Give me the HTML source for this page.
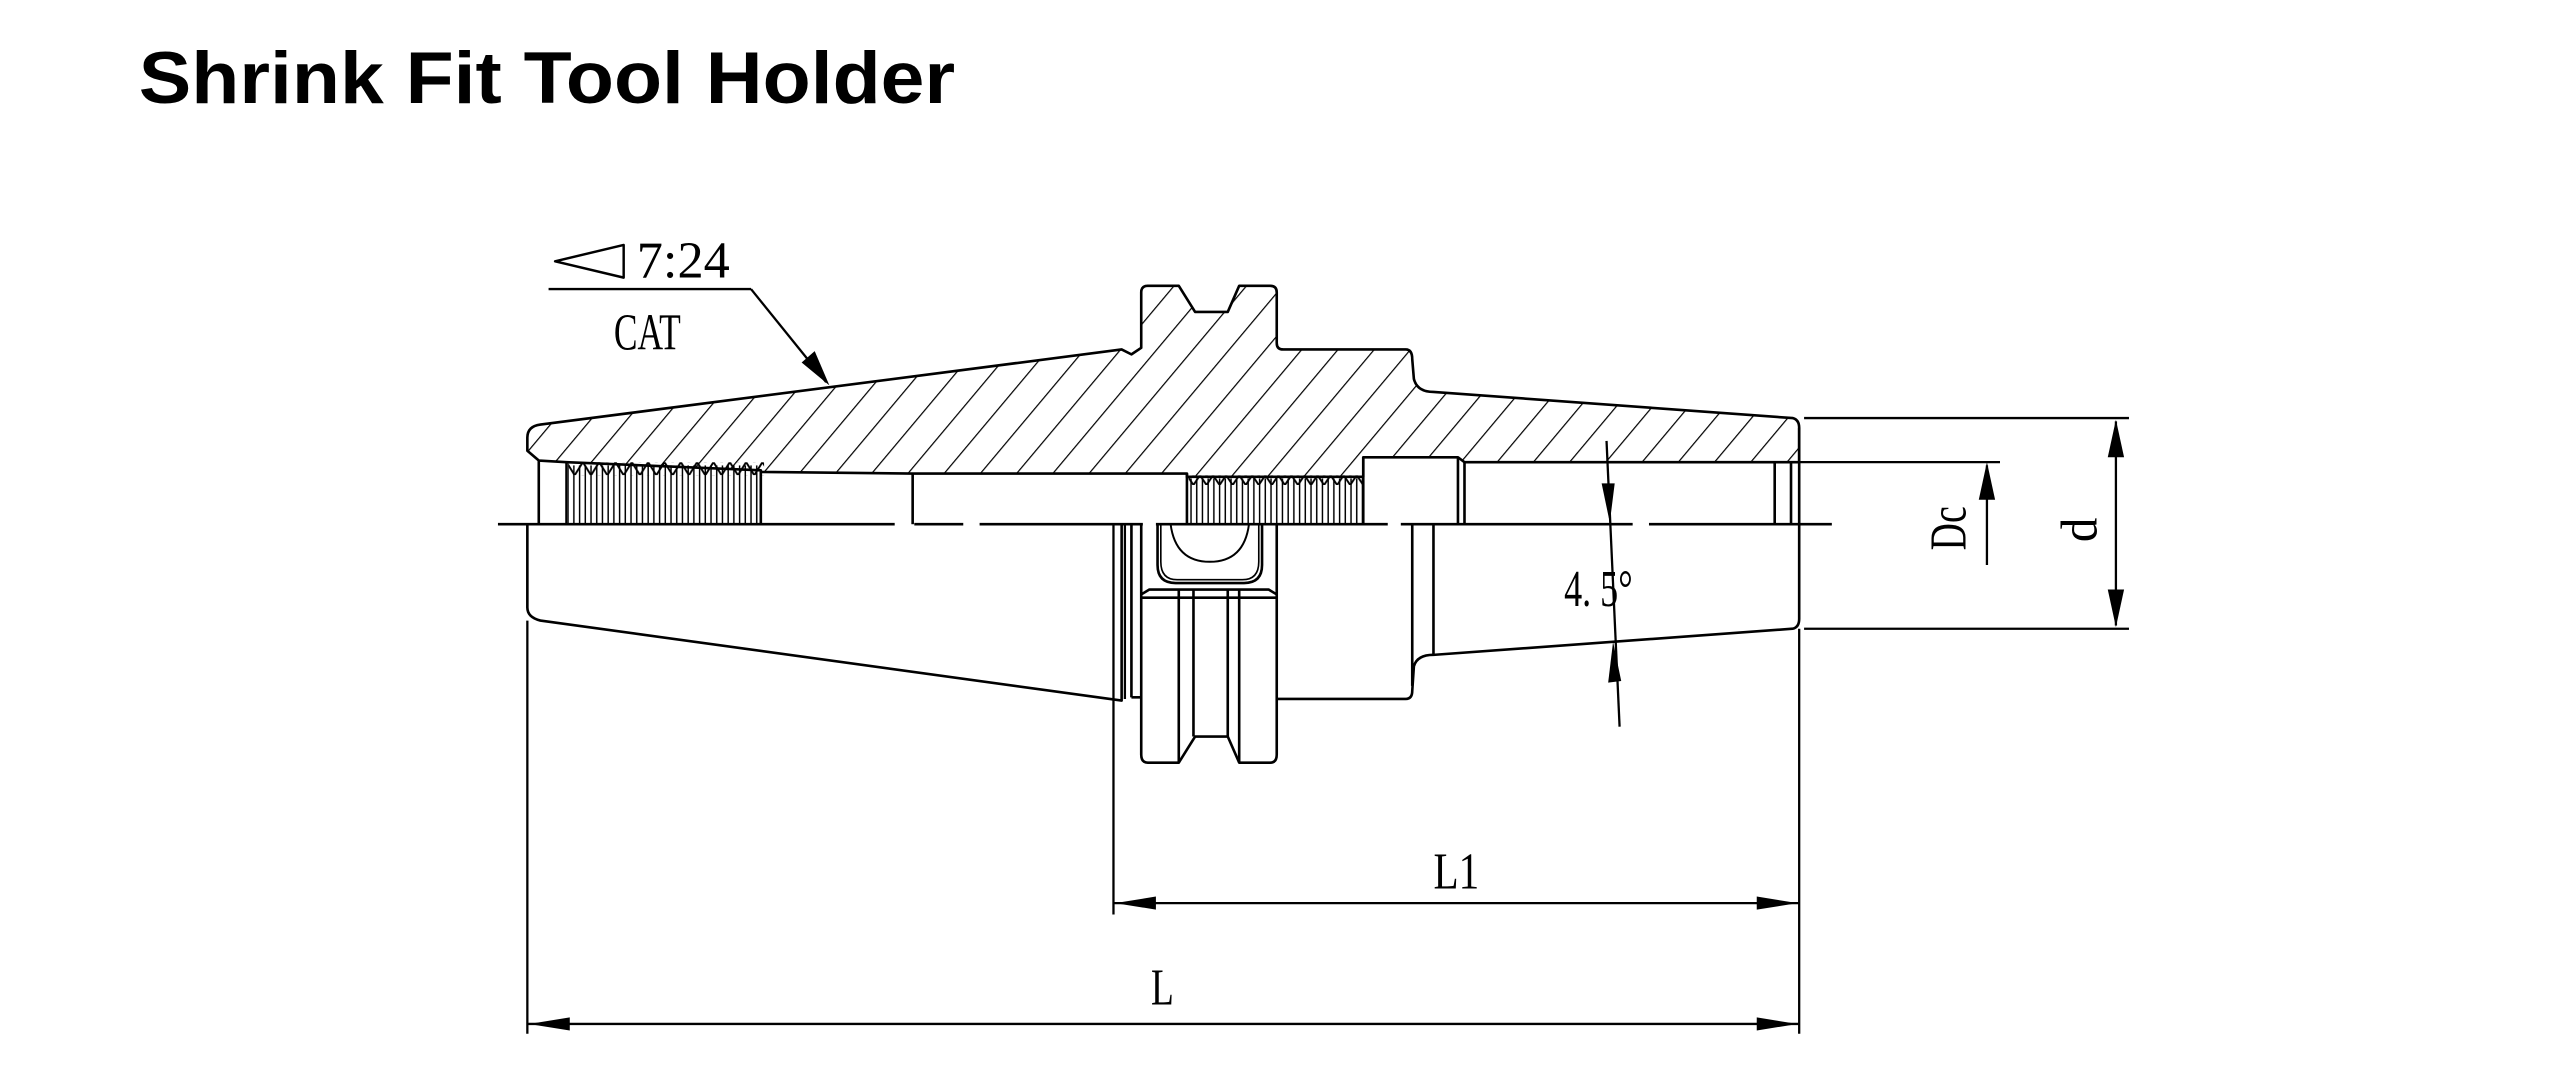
<!DOCTYPE html>
<html><head><meta charset="utf-8"><style>
html,body{margin:0;padding:0;background:#fff;}
svg{display:block;}
</style></head><body>
<svg width="2560" height="1086" viewBox="0 0 1568 665" preserveAspectRatio="none" xmlns="http://www.w3.org/2000/svg">
<defs>
<pattern id="hatch" width="17" height="20" patternUnits="userSpaceOnUse" patternTransform="rotate(40)">
<line x1="0" y1="0" x2="0" y2="20" stroke="#000" stroke-width="1.5"/>
</pattern>
<pattern id="vl" width="3.5" height="40" patternUnits="userSpaceOnUse" x="347">
<line x1="1" y1="0" x2="1" y2="40" stroke="#000" stroke-width="0.9"/>
</pattern>
<pattern id="teeth" width="10" height="8" patternUnits="userSpaceOnUse" x="347" y="283">
<path d="M0,0 L5,8 L10,0" fill="none" stroke="#000" stroke-width="1.2"/>
</pattern>
<pattern id="teeth2" width="8" height="6" patternUnits="userSpaceOnUse" x="727" y="291">
<path d="M0,0 L4,6 L8,0" fill="none" stroke="#000" stroke-width="1.2"/>
</pattern>
</defs>
<rect width="1568" height="665" fill="#fff"/>
<text x="85" y="63" font-family="Liberation Sans, Arial, sans-serif" font-weight="bold" font-size="45" textLength="500" lengthAdjust="spacingAndGlyphs">Shrink Fit Tool Holder</text>

<g fill="none" stroke="#000" stroke-width="1.6" stroke-linejoin="round">
<path fill="url(#hatch)" d="M323,268 Q323,261 331,260 L687,214 L693,217 L699,213 L699,179 Q699,175 703,175 L722,175 L732,191 L752,191 L759,175 L778,175 Q782,175 782,179 L782,210 Q782,214 786,214 L861,214 Q865,214 865,220 L866,232 Q868,240 878,240 L1098,256 Q1102,257 1102,262 L1102,283 L897,283 L893,280 L835,280 L835,292 L727,292 L727,290 L559,290 L466,289 L466,288 L347,283 L330,282 L323,276 Z"/>
<rect x="348" y="285" width="118" height="36" fill="url(#vl)" stroke="none"/>
<rect x="348" y="283" width="120" height="8" fill="url(#teeth)" stroke="none"/>
<rect x="728" y="293" width="107" height="28" fill="url(#vl)" stroke="none"/>
<rect x="728" y="291" width="107" height="6" fill="url(#teeth2)" stroke="none"/>
<line x1="330" y1="282" x2="330" y2="321"/>
<line x1="347" y1="283" x2="347" y2="321"/>
<line x1="466" y1="289" x2="466" y2="321"/>
<line x1="559" y1="290" x2="559" y2="321"/>
<line x1="727" y1="290" x2="727" y2="321"/>
<line x1="835" y1="280" x2="835" y2="321"/>
<line x1="893" y1="280" x2="893" y2="321"/>
<line x1="897" y1="283" x2="897" y2="321"/>
<line x1="1087" y1="283" x2="1087" y2="321"/>
<line x1="1097" y1="283" x2="1097" y2="321"/>
<path d="M305,321 H548 M560,321 H590 M600,321 H700 M708,321 H850 M858,321 H1000 M1010,321 H1122"/>
<path d="M323,321 V372 Q323,378 331,380 L687,429 L687,321"/>
<line x1="693" y1="321" x2="693" y2="427"/>
<path d="M693,427 L699,427"/>
<path d="M699,321 V462 Q699,467 703,467 L722,467 L732,451 L752,451 L759,467 L778,467 Q782,467 782,462 V321"/>
<path d="M699,364 L704,361 H777 L782,364"/>
<line x1="699" y1="366" x2="782" y2="366"/>
<line x1="722" y1="361" x2="722" y2="467"/>
<line x1="731" y1="361" x2="731" y2="451"/>
<line x1="752" y1="361" x2="752" y2="451"/>
<line x1="759" y1="361" x2="759" y2="467"/>
<path d="M709,321 V346 Q709,357 720,357 H762 Q773,357 773,346 V321"/>
<path d="M711,321 V344 Q711,355 721,355 H761 Q771,355 771,344 V321" stroke-width="1"/>
<path d="M717,321 Q720,344 741,344 Q762,344 765,321" stroke-width="1.2"/>
<path d="M782,428 H861 Q865,428 865,423 L866,408 Q868,401 878,401 L1098,385 Q1102,384 1102,379 V262"/>
<line x1="865" y1="321" x2="865" y2="420"/>
<line x1="878" y1="321" x2="878" y2="401"/>
<g stroke-width="1.4">
<line x1="323" y1="380" x2="323" y2="633"/>
<line x1="1102" y1="385" x2="1102" y2="633"/>
<line x1="682" y1="321" x2="682" y2="560"/>
<line x1="689" y1="321" x2="689" y2="428"/>
<line x1="1105" y1="256" x2="1304" y2="256"/>
<line x1="1105" y1="385" x2="1304" y2="385"/>
<line x1="1102" y1="283" x2="1225" y2="283"/>
<line x1="1296" y1="258" x2="1296" y2="383"/>
<line x1="1217" y1="285" x2="1217" y2="346"/>
<line x1="682" y1="553" x2="1102" y2="553"/>
<line x1="323" y1="627" x2="1102" y2="627"/>
<line x1="984" y1="270" x2="992" y2="445"/>
<line x1="336" y1="177" x2="460" y2="177"/>
<line x1="460" y1="177" x2="506" y2="234"/>
</g>
<path d="M382,150 L340,160 L382,170 Z" stroke-width="1.5"/>
</g>
<g fill="#000" stroke="none">
<path d="M1296,257 L1291,280 L1301,280 Z"/>
<path d="M1296,384 L1291,361 L1301,361 Z"/>
<path d="M1217,283 L1212,306 L1222,306 Z"/>
<path d="M683,553 L708,549 L708,557 Z"/>
<path d="M1101,553 L1076,549 L1076,557 Z"/>
<path d="M324,627 L349,623 L349,631 Z"/>
<path d="M1101,627 L1076,623 L1076,631 Z"/>
<path d="M986,320 L981,296 L989,296 Z"/>
<path d="M988,393 L985,418 L993,417 Z"/>
<path d="M508,236 L491,222 L499,215 Z"/>
</g>
<g font-family="Liberation Serif, 'DejaVu Serif', serif" font-size="32" fill="#000">
<text x="390" y="170" textLength="57" lengthAdjust="spacingAndGlyphs">7:24</text>
<text x="376" y="214" textLength="41" lengthAdjust="spacingAndGlyphs">CAT</text>
<text x="958" y="371" textLength="42" lengthAdjust="spacingAndGlyphs">4. 5°</text>
<text x="878" y="544" textLength="28" lengthAdjust="spacingAndGlyphs">L1</text>
<text x="705" y="615" textLength="14" lengthAdjust="spacingAndGlyphs">L</text>
<text transform="translate(1204,337) rotate(-90)" textLength="27" lengthAdjust="spacingAndGlyphs">Dc</text>
<text transform="translate(1284,332) rotate(-90)" textLength="15" lengthAdjust="spacingAndGlyphs">d</text>
</g>
</svg>
</body></html>
